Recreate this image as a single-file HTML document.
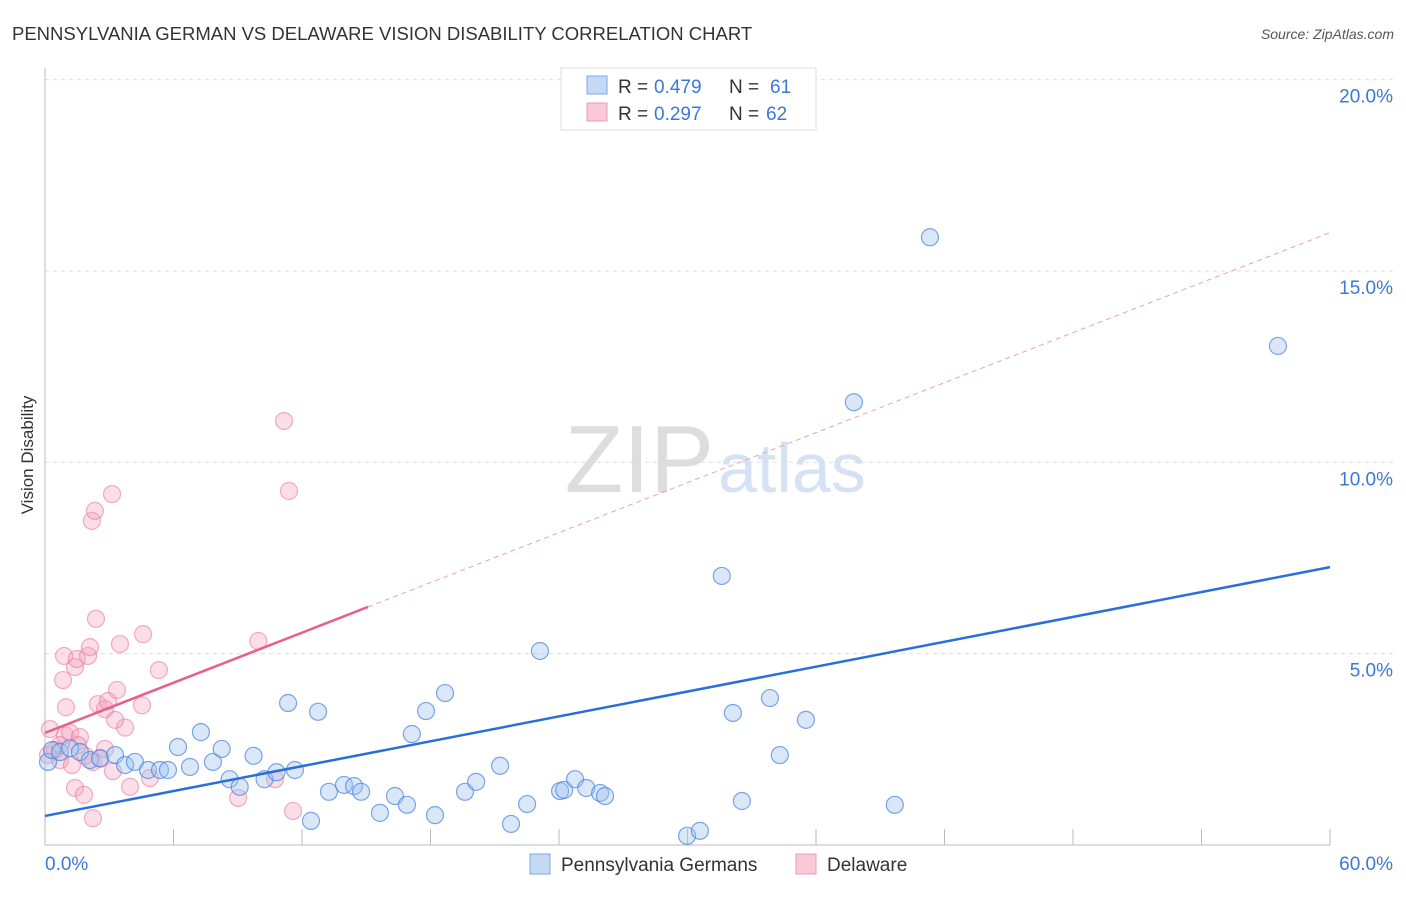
<!DOCTYPE html>
<html><head><meta charset="utf-8"><style>
body{margin:0;background:#fff;font-family:"Liberation Sans",sans-serif}
svg text{font-family:"Liberation Sans",sans-serif}
</style></head><body>
<svg width="1406" height="892">
<text x="12" y="40" font-size="18.5" fill="#333">PENNSYLVANIA GERMAN VS DELAWARE VISION DISABILITY CORRELATION CHART</text>
<text x="1394" y="39" font-size="14" fill="#555" font-style="italic" text-anchor="end">Source: ZipAtlas.com</text>
<text x="33" y="455" font-size="17" fill="#333" transform="rotate(-90 33 455)" text-anchor="middle">Vision Disability</text>
<text x="714" y="492" font-size="96" fill="#ddd" text-anchor="end" font-family="Liberation Serif">ZIP</text>
<text x="718" y="492" font-size="70" fill="#d4e2f4">atlas</text>
<g id="grid"></g><g id="axes"></g><g id="pts"></g><g id="lines"></g>
<g>
<rect x="561" y="68" width="255" height="62" fill="#fff" stroke="#ddd"/>
<rect x="587" y="76" width="20" height="18" fill="#c5d9f5" stroke="#7aa6e8"/>
<rect x="587" y="103" width="20" height="18" fill="#f9c9d8" stroke="#ec9bb5"/>
<text x="618" y="93" font-size="19" fill="#333">R =</text>
<text x="654" y="93" font-size="19" fill="#3b78d8">0.479</text>
<text x="729" y="93" font-size="19" fill="#333">N =</text>
<text x="770" y="93" font-size="19" fill="#3b78d8">61</text>
<text x="618" y="120" font-size="19" fill="#333">R =</text>
<text x="654" y="120" font-size="19" fill="#3b78d8">0.297</text>
<text x="729" y="120" font-size="19" fill="#333">N =</text>
<text x="766" y="120" font-size="19" fill="#3b78d8">62</text>
</g>
<g>
<rect x="530" y="854" width="20" height="20" fill="#c5d9f5" stroke="#7aa6e8"/>
<text x="561" y="871" font-size="19" fill="#333">Pennsylvania Germans</text>
<rect x="796" y="854" width="20" height="20" fill="#f9c9d8" stroke="#ec9bb5"/>
<text x="827" y="871" font-size="19" fill="#333">Delaware</text>
</g>
</svg>
<script>
const yTicks=[5,10,15,20];
const xTickLabels=["0.0%","60.0%"];
const blueX=[0.14,0.33,0.7,1.17,1.63,2.1,2.57,3.27,3.74,4.2,4.81,5.37,5.74,6.21,6.77,7.28,7.84,8.25,8.62,9.09,9.74,10.25,10.81,11.35,11.67,12.42,12.75,13.26,13.96,14.43,14.76,15.64,16.34,16.9,17.13,17.79,18.21,18.68,19.61,20.13,21.25,21.76,22.51,23.11,24.05,24.24,24.75,25.27,25.92,26.15,29.98,30.58,31.6,32.12,32.54,33.85,34.31,35.53,37.77,39.68,41.32,57.57];
const blueY=[2.17,2.48,2.43,2.53,2.43,2.22,2.27,2.35,2.09,2.17,1.96,1.96,1.96,2.56,2.04,2.95,2.17,2.51,1.72,1.52,2.33,1.72,1.9,3.71,1.96,0.63,3.48,1.39,1.57,1.54,1.39,0.84,1.28,1.05,2.9,3.5,0.78,3.97,1.39,1.65,2.07,0.55,1.07,5.07,1.41,1.44,1.72,1.49,1.36,1.28,0.24,0.37,7.03,3.45,1.15,3.84,2.35,3.27,11.57,1.05,15.88,13.04];
const pinkX=[0.23,0.14,0.47,0.7,0.93,1.17,1.26,1.63,1.87,2.24,2.57,2.8,3.17,0.89,0.98,0.84,1.4,1.49,2.01,2.1,2.38,2.19,2.33,3.13,1.40,1.82,2.24,2.47,2.8,2.94,3.36,3.5,3.74,3.27,3.97,4.53,4.58,4.9,5.32,9.02,9.96,10.74,11.16,11.39,11.58,0.7,1.54];
const pinkY=[3.03,2.35,2.48,2.22,2.87,2.93,2.09,2.82,2.33,2.17,2.25,2.51,1.93,4.94,3.6,4.31,4.65,4.86,4.94,5.17,5.91,8.47,8.73,9.17,1.49,1.31,0.7,3.68,3.55,3.76,4.05,5.25,3.07,3.27,1.52,3.65,5.51,1.75,4.57,1.23,5.33,1.72,11.08,9.25,0.89,2.61,2.61];
const X0=45,XW=1285/60,Y0=845,YH=38.27;
const sx=v=>X0+v*XW, sy=v=>Y0-v*YH;
const NS="http://www.w3.org/2000/svg";
function mk(tag,attrs,parent){const e=document.createElementNS(NS,tag);for(const k in attrs)e.setAttribute(k,attrs[k]);document.getElementById(parent).appendChild(e);return e;}
yTicks.forEach(t=>{
 const l=mk('line',{x1:45,x2:1393,y1:sy(t),y2:sy(t),stroke:'#ddd','stroke-dasharray':'4,4'},'grid');
 
 
 const tx=mk('text',{x:1393,y:sy(t)+23,'font-size':19,fill:'#3b78d8','text-anchor':'end'},'grid');
 tx.textContent=t.toFixed(1)+'%';
 
 
});
const ax=mk('line',{x1:45,x2:1330,y1:845,y2:845,stroke:'#bbb'},'axes');


const ay=mk('line',{x1:45,x2:45,y1:68,y2:845,stroke:'#bbb'},'axes');


for(let i=1;i<=10;i++){const t=mk('line',{x1:sx(i*6),x2:sx(i*6),y1:829,y2:845,stroke:'#bbb'},'axes');
 
 }
[[0,'start',45],[60,'end',1393]].forEach((d,i)=>{const t=mk('text',{x:d[2],y:870,'font-size':19,fill:'#3b78d8','text-anchor':d[1]},'axes');t.textContent=xTickLabels[i];
 
 });
pinkX.forEach((x,i)=>{const c=mk('circle',{cx:sx(x),cy:sy(pinkY[i]),r:8.5,fill:'rgba(244,160,188,0.35)',stroke:'rgba(236,120,160,0.6)','stroke-width':1.2},'pts');
 
 });
blueX.forEach((x,i)=>{const c=mk('circle',{cx:sx(x),cy:sy(blueY[i]),r:8.5,fill:'rgba(160,195,240,0.4)',stroke:'rgba(70,130,220,0.7)','stroke-width':1.2},'pts');
 
 });
const bl=mk('line',{x1:sx(0),y1:sy(0.76),x2:sx(60),y2:sy(7.26),stroke:'#2a6fd6','stroke-width':2.5},'lines');


const pl=mk('line',{x1:sx(0),y1:sy(2.93),x2:sx(15.08),y2:sy(6.22),stroke:'#e8608a','stroke-width':2.5},'lines');


const pd=mk('line',{x1:sx(15.08),y1:sy(6.22),x2:sx(60),y2:sy(16.0),stroke:'#e8a0b6','stroke-width':1,'stroke-dasharray':'5,4'},'lines');


</script>
</body></html>
